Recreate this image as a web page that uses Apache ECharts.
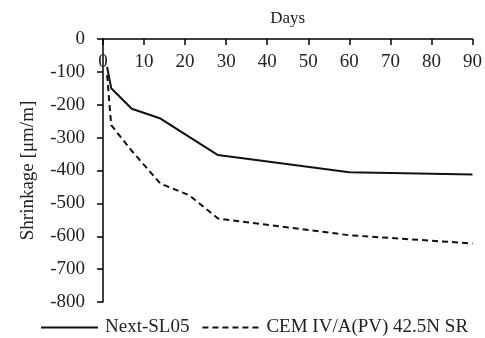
<!DOCTYPE html>
<html>
<head>
<meta charset="utf-8">
<script src="https://cdn.jsdelivr.net/npm/echarts@6/dist/echarts.min.js"></script>
<style>
  html, body { margin: 0; padding: 0; background: #fff; }
  #chart { width: 485px; height: 338px; }
</style>
</head>
<body>
<div id="chart"></div>
<script>
// Drying shrinkage over 90 days for two binders
const days = [1, 2, 7, 14, 21, 28, 60, 90];
const daysNext = [1, 2, 7, 14, 28, 60, 90];
const nextSL05 = [-85, -150, -212, -242, -353, -405, -412];
const cemIV = [-110, -262, -340, -440, -475, -546, -597, -622];
const seriesNames = ['Next-SL05', 'CEM IV/A(PV) 42.5N SR'];

const font = 'Liberation Serif';
const textColor = '#222';

const pair = (xs, ys) => xs.map((x, i) => [x, ys[i]]);

const chart = echarts.init(document.getElementById('chart'));
chart.setOption({
  animation: false,
  grid: { left: 103, top: 39, right: 7, bottom: 36 },
  xAxis: {
    type: 'value',
    position: 'top',
    min: 0, max: 90, interval: 10,
    name: 'Days',
    nameLocation: 'middle',
    nameGap: 12,
    nameTextStyle: { fontFamily: font, fontSize: 17, color: textColor, verticalAlign: 'bottom' },
    axisLine: { show: true, lineStyle: { color: '#000', width: 1.5 } },
    axisTick: { show: true, inside: true, length: 6, lineStyle: { color: '#000', width: 1.5 } },
    axisLabel: { inside: true, margin: 14, fontFamily: font, fontSize: 19, color: textColor },
    splitLine: { show: false }
  },
  yAxis: {
    type: 'value',
    min: -800, max: 0, interval: 100,
    name: 'Shrinkage [μm/m]',
    nameLocation: 'middle',
    nameGap: 65,
    nameTextStyle: { fontFamily: font, fontSize: 19, color: textColor },
    axisLine: { show: true, lineStyle: { color: '#000', width: 1.5 } },
    axisTick: { show: true, length: 6, lineStyle: { color: '#000', width: 1.5 } },
    axisLabel: { margin: 18, fontFamily: font, fontSize: 19, color: textColor },
    splitLine: { show: false }
  },
  legend: {
    left: 40, top: 318, padding: 0,
    itemWidth: 57, itemHeight: 10, itemGap: 12,
    itemStyle: { color: 'transparent', borderWidth: 0 },
    textStyle: { fontFamily: font, fontSize: 19, color: textColor, padding: [0, 0, 0, 2] },
    data: seriesNames
  },
  series: [
    {
      name: seriesNames[0],
      type: 'line',
      data: pair(daysNext, nextSL05),
      symbol: 'none',
      lineStyle: { color: '#111', width: 2 },
      itemStyle: { color: '#111' }
    },
    {
      name: seriesNames[1],
      type: 'line',
      data: pair(days, cemIV),
      symbol: 'none',
      lineStyle: { color: '#111', width: 2, type: [6, 4] },
      itemStyle: { color: '#111' }
    }
  ]
});
</script>
</body>
</html>
